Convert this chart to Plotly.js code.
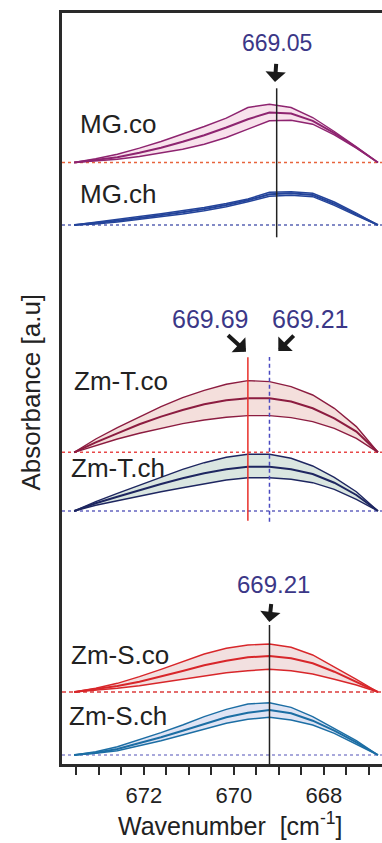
<!DOCTYPE html>
<html>
<head>
<meta charset="utf-8">
<script src="https://cdn.plot.ly/plotly-3.0.1.min.js"></script>
<style>html,body{margin:0;padding:0;background:#fff;}#chart{width:382px;height:843px;}</style>
</head>
<body>
<div id="chart"></div>
<script>
// ---- data (wavenumber in cm-1, absorbance in a.u.) ----
const wavenumber = [673.55, 673.07, 672.59, 672.10, 671.62, 671.14, 670.66, 670.17, 669.69, 669.21, 668.73, 668.25, 667.77, 667.28, 666.80];

const sampleNames = ['MG.co', 'MG.ch', 'Zm-T.co', 'Zm-T.ch', 'Zm-S.co', 'Zm-S.ch'];

const mgCoUpper = [0, 0.037, 0.083, 0.143, 0.210, 0.283, 0.360, 0.443, 0.550, 0.583, 0.550, 0.450, 0.310, 0.157, 0];
const mgCoMean  = [0, 0.023, 0.053, 0.097, 0.147, 0.207, 0.273, 0.350, 0.433, 0.500, 0.490, 0.417, 0.293, 0.150, 0];
const mgCoLower = [0, 0.013, 0.033, 0.060, 0.093, 0.133, 0.183, 0.250, 0.333, 0.417, 0.423, 0.383, 0.277, 0.143, 0];

const mgChUpper = [0, 0.030, 0.057, 0.085, 0.113, 0.143, 0.175, 0.215, 0.260, 0.327, 0.333, 0.317, 0.230, 0.120, 0];
const mgChMean  = [0, 0.020, 0.043, 0.070, 0.097, 0.127, 0.160, 0.200, 0.247, 0.307, 0.317, 0.300, 0.213, 0.107, 0];
const mgChLower = [0, 0.010, 0.030, 0.055, 0.080, 0.110, 0.143, 0.183, 0.233, 0.287, 0.297, 0.283, 0.197, 0.093, 0];

const ztCoUpper = [0, 0.133, 0.247, 0.357, 0.457, 0.547, 0.620, 0.680, 0.717, 0.707, 0.657, 0.573, 0.440, 0.257, 0];
const ztCoMean  = [0, 0.100, 0.190, 0.280, 0.357, 0.423, 0.480, 0.520, 0.540, 0.540, 0.507, 0.440, 0.340, 0.207, 0];
const ztCoLower = [0, 0.067, 0.133, 0.190, 0.240, 0.287, 0.323, 0.350, 0.367, 0.367, 0.347, 0.307, 0.240, 0.140, 0];

const ztChUpper = [0, 0.093, 0.177, 0.260, 0.343, 0.417, 0.483, 0.537, 0.567, 0.567, 0.527, 0.450, 0.337, 0.193, 0];
const ztChMean  = [0, 0.077, 0.143, 0.210, 0.270, 0.327, 0.377, 0.417, 0.443, 0.443, 0.417, 0.370, 0.283, 0.160, 0];
const ztChLower = [0, 0.057, 0.103, 0.150, 0.193, 0.233, 0.270, 0.310, 0.333, 0.333, 0.317, 0.283, 0.217, 0.117, 0];

const zsCoUpper = [0, 0.037, 0.087, 0.153, 0.227, 0.303, 0.380, 0.437, 0.470, 0.480, 0.447, 0.370, 0.253, 0.127, 0];
const zsCoMean  = [0, 0.027, 0.060, 0.103, 0.153, 0.210, 0.267, 0.313, 0.347, 0.360, 0.337, 0.287, 0.203, 0.103, 0];
const zsCoLower = [0, 0.017, 0.037, 0.063, 0.097, 0.130, 0.163, 0.193, 0.213, 0.227, 0.213, 0.180, 0.127, 0.070, 0];

const zsChUpper = [0, 0.033, 0.083, 0.150, 0.223, 0.300, 0.383, 0.457, 0.510, 0.523, 0.477, 0.383, 0.267, 0.143, 0];
const zsChMean  = [0, 0.023, 0.060, 0.117, 0.177, 0.243, 0.310, 0.377, 0.423, 0.450, 0.417, 0.343, 0.243, 0.127, 0];
const zsChLower = [0, 0.017, 0.043, 0.090, 0.143, 0.200, 0.260, 0.317, 0.357, 0.377, 0.350, 0.300, 0.217, 0.110, 0];

const peakLabels = ['669.05', '669.69', '669.21', '669.21'];
const peakPositions = [669.05, 669.69, 669.21, 669.21];

const tickValues = [672, 670, 668];
const tickLabels = ['672', '670', '668'];

// ---- styling / layout (stacking offsets are layout, not data) ----
const FONT = 'Liberation Sans, Arial, Helvetica, sans-serif';
const series = [
  {upper: mgCoUpper, mean: mgCoMean, lower: mgCoLower, off: 6.015, line: '#8e2470', fill: 'rgba(240,190,212,0.45)', base: '#e8643c', bdash: 'dot'},
  {upper: mgChUpper, mean: mgChMean, lower: mgChLower, off: 5.39,  line: '#24449a', fill: 'rgba(170,185,230,0.35)', base: '#5a64b4', bdash: 'dot'},
  {upper: ztCoUpper, mean: ztCoMean, lower: ztCoLower, off: 3.117, line: '#8c1c40', fill: '#f4dfdc', base: '#e84848', bdash: '3px,3px'},
  {upper: ztChUpper, mean: ztChMean, lower: ztChLower, off: 2.53,  line: '#1e2660', fill: '#dae6e1', base: '#6464c0', bdash: 'dot'},
  {upper: zsCoUpper, mean: zsCoMean, lower: zsCoLower, off: 0.72,  line: '#d8262a', fill: '#f2e0e0', base: '#dc3c3c', bdash: '4px,3px'},
  {upper: zsChUpper, mean: zsChMean, lower: zsChLower, off: 0.09,  line: '#1c6ea4', fill: '#e0e4f4', base: '#8c8cd0', bdash: 'dot'}
];

const traces = [];
const shapes = [];
series.forEach((s, i) => {
  const shift = arr => arr.map(v => v + s.off);
  traces.push({x: wavenumber, y: shift(s.lower), type: 'scatter', mode: 'lines', name: sampleNames[i] + ' low',
               line: {color: s.line, width: 1.4}, hoverinfo: 'skip', showlegend: false});
  traces.push({x: wavenumber, y: shift(s.upper), type: 'scatter', mode: 'lines', name: sampleNames[i] + ' high',
               fill: 'tonexty', fillcolor: s.fill, line: {color: s.line, width: 1.4}, hoverinfo: 'skip', showlegend: false});
  traces.push({x: wavenumber, y: shift(s.mean), type: 'scatter', mode: 'lines', name: sampleNames[i],
               line: {color: s.line, width: 2}, showlegend: false});
  shapes.push({type: 'line', xref: 'paper', x0: 0, x1: 1, yref: 'y', y0: s.off, y1: s.off, layer: 'below',
               line: {color: s.base, width: 1.5, dash: s.bdash}});
});

// peak marker lines
shapes.push({type: 'line', xref: 'x', x0: peakPositions[0], x1: peakPositions[0], yref: 'y', y0: 5.267, y1: 6.757, line: {color: '#222', width: 1.5}});
shapes.push({type: 'line', xref: 'x', x0: peakPositions[1], x1: peakPositions[1], yref: 'y', y0: 2.433, y1: 4.067, line: {color: '#e8302a', width: 1.5}});
shapes.push({type: 'line', xref: 'x', x0: peakPositions[2], x1: peakPositions[2], yref: 'y', y0: 2.423, y1: 4.07, line: {color: '#4a4ac0', width: 1.5, dash: '4px,3px'}});
shapes.push({type: 'line', xref: 'x', x0: peakPositions[3], x1: peakPositions[3], yref: 'y', y0: 0, y1: 1.39, line: {color: '#222', width: 1.5}});

const annotations = [];
const labelPos = [[0.05, 6.402], [0.05, 5.703], [0.031, 3.83], [0.022, 2.96], [0.021, 1.095], [0.016, 0.485]];
sampleNames.forEach((n, i) => {
  annotations.push({text: n, xref: 'paper', yref: 'y', x: labelPos[i][0], y: labelPos[i][1], xanchor: 'left', yanchor: 'middle',
                    showarrow: false, font: {family: FONT, size: 26, color: '#222'}});
});
// peak values with their arrows: [tip x (paper), tip y, text dx, text dy, font size, start standoff]
const numColor = '#3b3787';
const peakNotes = [
  [0.6656, 6.82, 2.5, -38.7, 23, 7],
  [0.575, 4.123, -36, -33, 25, 3],
  [0.676, 4.13, 32, -32, 25, 3],
  [0.6478, 1.42, 4, -38, 24, 6]
];
peakLabels.forEach((t, i) => {
  const p = peakNotes[i];
  annotations.push({text: t, xref: 'paper', yref: 'y', x: p[0], y: p[1], ax: p[2], ay: p[3],
                    showarrow: true, arrowhead: 1, arrowsize: 0.85, arrowwidth: 4, arrowcolor: '#1a1a1a',
                    startstandoff: p[5], standoff: 0, borderpad: 0,
                    font: {family: FONT, size: p[4], color: numColor}});
});
// axis titles
annotations.push({text: 'Absorbance [a.u]', xref: 'paper', yref: 'paper', x: (31 - 62) / 320, y: (764 - 392.5) / 751,
                  xanchor: 'center', yanchor: 'middle', textangle: -90, showarrow: false, font: {family: FONT, size: 26, color: '#222'}});
annotations.push({text: 'Wavenumber  [cm<sup>-1</sup>]', xref: 'paper', yref: 'paper', x: (230 - 62) / 320, y: (764 - 824) / 751,
                  xanchor: 'center', yanchor: 'middle', showarrow: false, font: {family: FONT, size: 25, color: '#222'}});

const layout = {
  width: 382, height: 843,
  margin: {l: 62, r: 0, t: 13, b: 79, pad: 0},
  paper_bgcolor: '#fff', plot_bgcolor: '#fff',
  showlegend: false,
  font: {family: FONT, color: '#222'},
  xaxis: {range: [673.82, 666.71], showgrid: false, zeroline: false, showline: true, linewidth: 3, linecolor: '#2a2a2a', mirror: true,
          tickmode: 'array', tickvals: tickValues, ticktext: tickLabels, ticks: 'outside', ticklen: 8, tickwidth: 2, tickcolor: '#2a2a2a',
          ticklabelstandoff: 2,
          tickfont: {family: FONT, size: 22, color: '#222'},
          minor: {dtick: 0.5, tick0: 668, ticks: 'outside', ticklen: 8, tickwidth: 2, tickcolor: '#2a2a2a', showgrid: false}},
  yaxis: {range: [0, 7.51], showgrid: false, zeroline: false, showline: true, linewidth: 3, linecolor: '#2a2a2a', mirror: false,
          ticks: '', showticklabels: false},
  shapes: shapes,
  annotations: annotations
};

Plotly.newPlot('chart', traces, layout, {displayModeBar: false, staticPlot: true});
</script>
</body>
</html>
